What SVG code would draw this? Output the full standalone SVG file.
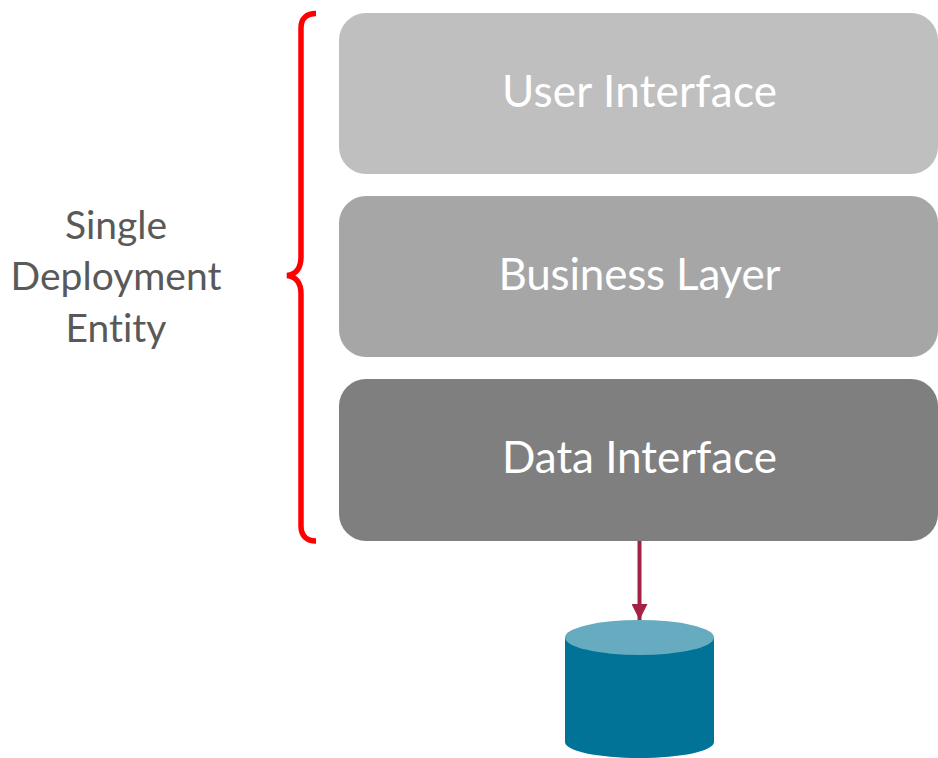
<svg xmlns="http://www.w3.org/2000/svg" width="938" height="758" viewBox="0 0 938 758">
<style>
.box{stroke:none}
.t{font-family:Lato,"Open Sans",sans-serif;text-anchor:middle;font-variant-ligatures:none}
.w{fill:#fff;font-size:44px}
.g{fill:#595959;font-size:39px}
</style>
<defs>
<marker id="arr" markerUnits="userSpaceOnUse" markerWidth="16" markerHeight="16" refX="16" refY="8" orient="auto"><path d="M0 0L16 8L0 16Z" fill="#a22345"/></marker>
</defs>
<rect width="938" height="758" fill="#fff"/>
<g id="brace"><path d="M316 13.500C307 13.500 301 18 301 28V257C301 268 296 274.500 287 275.500C296 276.500 301 283 301 294V526C301 536 307 541 316 541" fill="none" stroke="#f00" stroke-width="5.500"/></g>
<g id="label"><text class="t g" x="116" y="239">Single</text><text class="t g" x="116" y="290">Deployment</text><text class="t g" x="116" y="342">Entity</text></g>
<g id="user-interface"><rect class="box" x="339" y="13" width="599" height="161" rx="27" fill="#bfbfbf"/><text class="t w" x="639.500" y="107" textLength="275" lengthAdjust="spacing">User Interface</text></g>
<g id="business-layer"><rect class="box" x="339" y="196" width="599" height="161" rx="27" fill="#a6a6a6"/><text class="t w" x="639.500" y="290" textLength="282" lengthAdjust="spacing">Business Layer</text></g>
<g id="data-interface"><rect class="box" x="339" y="379" width="599" height="162" rx="27" fill="#7f7f7f"/><text class="t w" x="639.500" y="473" textLength="275" lengthAdjust="spacing">Data Interface</text></g>
<g id="connectors"><line x1="639.500" y1="541" x2="639.500" y2="620" stroke="#a22345" stroke-width="4" marker-end="url(#arr)"/></g>
<g id="database"><path d="M565 637.500V742C565 751 598 758 639.500 758S714 751 714 742V637.500Z" fill="#007396"/><ellipse cx="639.500" cy="637.500" rx="74.500" ry="17.500" fill="#66abc0"/></g>
</svg>
